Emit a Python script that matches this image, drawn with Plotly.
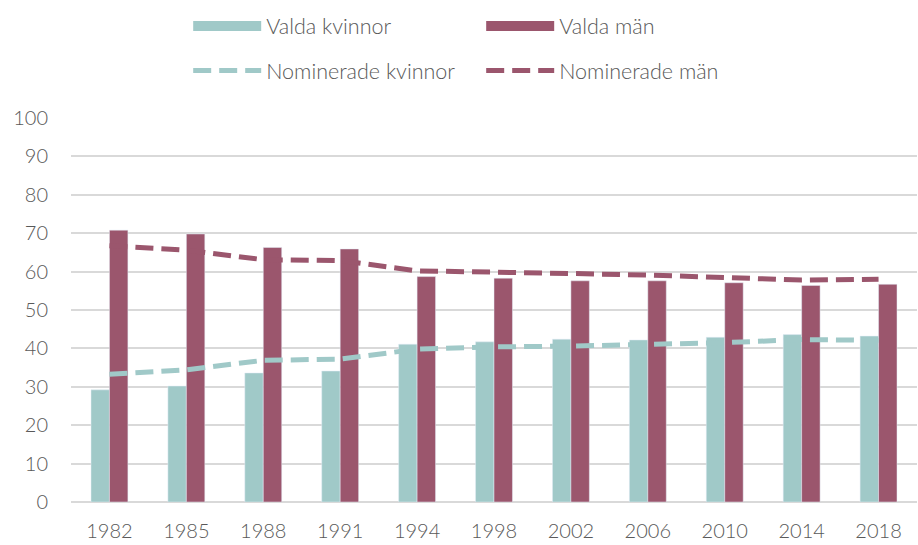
import plotly.graph_objects as go

years = ["1982", "1985", "1988", "1991", "1994", "1998", "2002", "2006", "2010", "2014", "2018"]
valda_kvinnor = [29.2, 30.2, 33.6, 34.1, 41.1, 41.7, 42.4, 42.2, 42.9, 43.6, 43.2]
valda_man = [70.8, 69.8, 66.3, 65.9, 58.7, 58.3, 57.6, 57.6, 57.1, 56.4, 56.7]
nom_kvinnor = [33.3, 34.4, 36.9, 37.2, 39.8, 40.4, 40.6, 40.9, 41.5, 42.3, 42.1]
nom_man = [66.7, 65.6, 63.1, 62.9, 60.2, 59.7, 59.5, 59.1, 58.5, 57.8, 58.0]

teal = "#A0C9C8"
maroon = "#9B566D"
font = "Lato, 'Open Sans', sans-serif"
txt = "#595959"

fig = go.Figure()
fig.add_bar(x=years, y=valda_kvinnor, name="Valda kvinnor", marker_color=teal, showlegend=False)
fig.add_bar(x=years, y=valda_man, name="Valda män", marker_color=maroon, showlegend=False)
fig.add_scatter(x=years, y=nom_kvinnor, name="Nominerade kvinnor", mode="lines",
                line=dict(color=teal, width=5, dash="18px,8px"), legend="legend2")
fig.add_scatter(x=years, y=nom_man, name="Nominerade män", mode="lines",
                line=dict(color=maroon, width=5, dash="18px,8px"), legend="legend2")
# legend swatches for the bar series (wide rectangles as in the reference)
fig.add_scatter(x=[None], y=[None], name="Valda kvinnor", mode="lines",
                line=dict(color=teal, width=13), legend="legend", hoverinfo="skip")
fig.add_scatter(x=[None], y=[None], name="Valda män", mode="lines",
                line=dict(color=maroon, width=13), legend="legend", hoverinfo="skip")

tfont = dict(size=20, color=txt, family=font, weight=300)
lfont = dict(size=21.5, color=txt, family=font, weight=300)
fig.update_layout(
    width=918, height=545,
    margin=dict(l=71, r=1, t=118, b=43, autoexpand=False),
    paper_bgcolor="white", plot_bgcolor="white",
    font=dict(family=font, size=20, color=txt, weight=300),
    barmode="group", bargap=0.52, bargroupgap=0,
    legend=dict(orientation="h", x=0.205, xref="container", y=0.99, yref="container",
                yanchor="top", xanchor="left", entrywidth=210, font=lfont,
                bgcolor="rgba(0,0,0,0)", itemwidth=68, traceorder="normal"),
    legend2=dict(orientation="h", x=0.205, xref="container", y=0.908, yref="container",
                 yanchor="top", xanchor="left", entrywidth=210, font=lfont,
                 bgcolor="rgba(0,0,0,0)", itemwidth=68, traceorder="normal"),
    xaxis=dict(type="category", showgrid=False, showline=False, ticks="",
               tickfont=tfont, ticklabelstandoff=15),
    yaxis=dict(range=[0, 100], tickvals=list(range(0, 101, 10)), showgrid=True,
               gridcolor="#D9D9D9", gridwidth=1.5, zeroline=True, zerolinecolor="#D9D9D9",
               zerolinewidth=1.5, showline=False, ticks="",
               tickfont=tfont, ticklabelstandoff=22),
)

fig.write_html("out.html", config={"displayModeBar": False},
               post_script="document.body.style.margin='0';")
